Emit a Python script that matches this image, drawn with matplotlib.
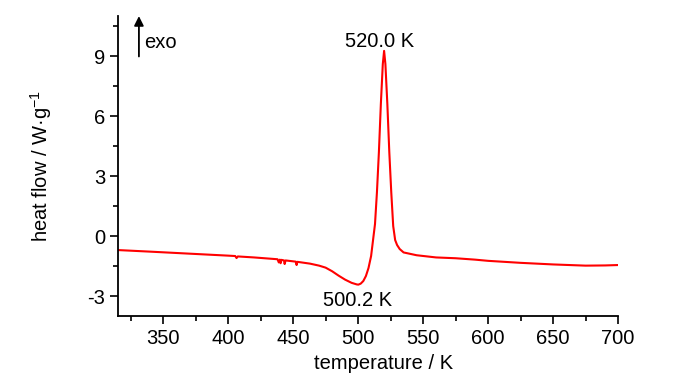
import matplotlib
matplotlib.use("Agg")
import matplotlib.pyplot as plt
from matplotlib.ticker import MultipleLocator

plt.rcParams['font.family'] = ['Liberation Sans', 'DejaVu Sans']
plt.rcParams['axes.unicode_minus'] = False
plt.rcParams['mathtext.default'] = 'regular'

temperature = [315, 340, 370, 400, 405.5, 406.5, 407.5, 420, 438, 439, 439.8, 440.4, 441,
               443, 443.5, 444.2, 452, 452.7, 453.3, 463, 470, 475, 480, 485, 490, 495,
               499, 500.2, 502, 504, 506, 508, 510, 511.5, 513, 514.5, 516, 517.5, 519,
               520, 521, 522.5, 524, 525.5, 527, 528.5, 530, 532, 535, 545, 560, 575,
               590, 600, 625, 650, 675, 690, 700]
heat_flow = [-0.70, -0.78, -0.88, -0.98, -1.00, -1.10, -1.02, -1.07, -1.16, -1.32, -1.18,
             -1.36, -1.19, -1.22, -1.40, -1.22, -1.28, -1.45, -1.29, -1.38, -1.48, -1.58,
             -1.76, -1.98, -2.18, -2.34, -2.42, -2.43, -2.38, -2.25, -2.00, -1.60, -1.00,
             -0.20, 0.60, 2.20, 4.20, 6.60, 8.60, 9.26, 8.60, 6.60, 4.20, 2.20, 0.50, -0.20,
             -0.45, -0.65, -0.82, -0.96, -1.07, -1.11, -1.18, -1.24, -1.34, -1.42, -1.48,
             -1.47, -1.45]

x_ticks = [350, 400, 450, 500, 550, 600, 650, 700]
y_ticks = [-3, 0, 3, 6, 9]
peak_label = "520.0 K"
min_label = "500.2 K"

fig = plt.figure(figsize=(7, 3.74), dpi=100)
ax = fig.add_axes([0.168, 0.155, 0.715, 0.802])
ax.plot(temperature, heat_flow, color='#ff0000', lw=1.5)

ax.set_xlim(315, 700)
ax.set_ylim(-4, 11)
ax.set_xticks(x_ticks)
ax.set_yticks(y_ticks)
ax.xaxis.set_minor_locator(MultipleLocator(25))
ax.yaxis.set_minor_locator(MultipleLocator(1.5))
for s in ['top', 'right']:
    ax.spines[s].set_visible(False)
for s in ['left', 'bottom']:
    ax.spines[s].set_linewidth(1.3)
ax.tick_params(which='major', direction='out', length=6, width=1.2, labelsize=14.5, pad=3)
ax.tick_params(which='minor', direction='out', length=3.5, width=1.2)

ax.set_xlabel('temperature / K', fontsize=14.5)
ax.xaxis.set_label_coords(0.532, -0.125)
ax.set_ylabel('heat flow / W·g$^{-1}$', fontsize=14.5)
ax.yaxis.set_label_coords(-0.128, 0.5)

ax.annotate('', xy=(331.4, 11.0), xytext=(331.4, 8.98),
            arrowprops=dict(arrowstyle='-|>', color='black', lw=1.3, mutation_scale=14,
                            shrinkA=0, shrinkB=0))
ax.text(335.5, 9.7, 'exo', fontsize=14.5, ha='left', va='center')
ax.text(516.6, 9.75, peak_label, fontsize=14.5, ha='center', va='center')
ax.text(499.4, -3.24, min_label, fontsize=14.5, ha='center', va='center')

fig.savefig('out.png', dpi=100)
